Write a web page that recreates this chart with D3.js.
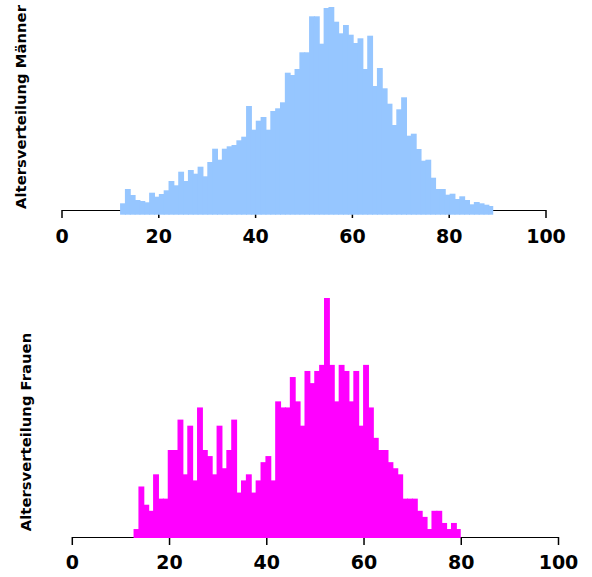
<!DOCTYPE html>
<html>
<head>
<meta charset="utf-8">
<script src="https://cdn.jsdelivr.net/npm/d3@7/dist/d3.min.js"></script>
<style>
  html, body { margin: 0; padding: 0; background: #fff; }
  svg { display: block; }
  text { font-family: "DejaVu Sans", Verdana, sans-serif; font-weight: bold; }
</style>
</head>
<body>
<svg id="chart" width="592" height="577"></svg>
<script>
// ---- data ----
const tickValues = [0, 20, 40, 60, 80, 100];

const maleTitle = "Altersverteilung Männer";
const maleRange = [12.1, 89.2];            // bin edges span (years)
const maleValues = [
  11.4, 25.7, 19.7, 14.7, 13.7, 12.4, 22, 18, 20.7, 24.4,
  33.7, 29.4, 43, 33.7, 44.7, 41, 48, 38.4, 52.7, 66,
  55, 66, 68.4, 69.7, 74.4, 78, 108.7, 85, 94, 97.7,
  85, 103.7, 106.4, 112.4, 142, 139.7, 145.7, 162.4, 162.4, 198.4,
  198.4, 171, 206.7, 207.7, 193, 181.4, 189.7, 180, 171.7, 176.4,
  145.7, 179, 128.7, 146.7, 126.4, 111, 89.7, 105.4, 117.4, 79,
  81, 65.7, 54, 55, 37, 25.7, 25.7, 20, 21, 15.7,
  18.4, 14.7, 10.4, 12.7, 11.4, 10, 8.7
];

const femaleTitle = "Altersverteilung Frauen";
const femaleRange = [12.7, 80.0];
const femaleValues = [
  2, 9, 6, 5, 11, 7, 7, 15, 15, 20,
  11, 19, 10, 22, 15, 14, 11, 19, 12, 15,
  20, 8, 10, 11, 8, 10, 13, 14, 10, 23,
  22, 22, 27, 23, 19, 28, 26, 28, 29, 40,
  29, 23, 29, 28, 23, 28, 19, 29, 22, 17,
  15, 15, 13, 12, 11, 7, 7, 7, 5, 4,
  2, 5, 5, 3, 2, 3, 2
];

const svg = d3.select("#chart");

function makeBins(range, values) {
  const w = (range[1] - range[0]) / values.length;
  return values.map((v, i) => ({ x0: range[0] + i * w, x1: range[0] + (i + 1) * w, v, last: i === values.length - 1 }));
}

function drawHist(cfg) {
  const g = svg.append("g");
  const x = d3.scaleLinear().domain([0, 100]).range(cfg.xRange);
  const y = d3.scaleLinear().domain(cfg.yDomain).range(cfg.yRange);

  const axis = d3.axisBottom(x).tickValues(tickValues).tickSize(8).tickSizeOuter(0).tickPadding(cfg.pad);
  const ax = g.append("g").attr("transform", `translate(0,${cfg.axisY})`).call(axis);
  ax.select(".domain").attr("stroke", "#000").attr("stroke-width", 1.2);
  ax.selectAll(".tick line").attr("stroke", "#000").attr("stroke-width", 1.5);
  ax.selectAll(".tick text").attr("fill", "#000").style("font-size", "19px").style("font-weight", "bold")
    .style("font-family", '"DejaVu Sans", Verdana, sans-serif');

  const bins = makeBins(cfg.range, cfg.values);
  g.append("g").selectAll("rect").data(bins).join("rect")
    .attr("x", d => x(d.x0))
    .attr("width", d => x(d.x1) - x(d.x0) + (d.last ? 0 : 1))
    .attr("y", d => y(d.v))
    .attr("height", d => cfg.base - y(d.v))
    .attr("fill", cfg.color);

  svg.append("text")
    .attr("transform", `translate(${cfg.titleX},${cfg.titleY}) rotate(-90)`)
    .attr("text-anchor", "middle")
    .style("font-size", "14.8px")
    .attr("fill", "#000")
    .text(cfg.title);
}

drawHist({
  title: maleTitle, range: maleRange, values: maleValues, color: "rgb(150,198,255)",
  xRange: [61.5, 545.5], yDomain: [0, 200], yRange: [214.7, 14.7], base: 214.7,
  axisY: 210, pad: 12, titleX: 26, titleY: 107
});

drawHist({
  title: femaleTitle, range: femaleRange, values: femaleValues, color: "#ff00ff",
  xRange: [71.8, 558], yDomain: [0, 40], yRange: [541.2, 298], base: 538,
  axisY: 537, pad: 11, titleX: 31, titleY: 432
});
</script>
</body>
</html>
